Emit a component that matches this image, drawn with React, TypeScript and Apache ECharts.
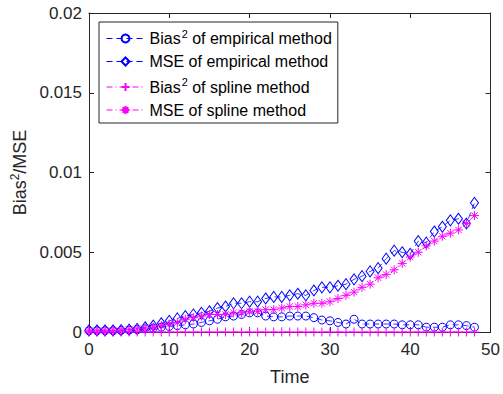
import React, { useEffect, useRef } from "react";
import * as echarts from "echarts";

const times = Array.from({ length: 49 }, (_, i) => i);

const biasEmpirical = [
  0.00008, 0.00008, 0.00008, 0.00008, 0.0001, 0.00012, 0.00015, 0.0002, 0.00025, 0.0003,
  0.00035, 0.0004, 0.00045, 0.0005, 0.0006, 0.0007, 0.0008, 0.00095, 0.001, 0.0011,
  0.0012, 0.0012, 0.001, 0.00095, 0.00095, 0.001, 0.001, 0.001, 0.0009, 0.00075,
  0.0007, 0.0006, 0.0005, 0.0008, 0.0005, 0.0005, 0.0005, 0.0005, 0.0005, 0.00045,
  0.00045, 0.00045, 0.0003, 0.0003, 0.0003, 0.00045, 0.00045, 0.0004, 0.0003,
];

const mseEmpirical = [
  0.0001, 0.0001, 0.0001, 0.0001, 0.00012, 0.00015, 0.0002, 0.0003, 0.0004, 0.00055,
  0.0007, 0.00085, 0.001, 0.0011, 0.0012, 0.0013, 0.0015, 0.0016, 0.0018, 0.0018,
  0.0019, 0.0019, 0.0021, 0.0022, 0.0022, 0.0023, 0.0024, 0.0023, 0.0026, 0.0028,
  0.0028, 0.0029, 0.003, 0.0033, 0.0035, 0.0038, 0.004, 0.0046, 0.0051, 0.005,
  0.0049, 0.0057, 0.0056, 0.0063, 0.0066, 0.007, 0.0071, 0.0068, 0.0081,
];

const biasSpline = [
  0, 0, 0, 0, 0, 0, 0, 0, 0, 0,
  0, 0, 0, 0, 0, 0, 0, 0, 0, 0,
  0, 0, 0, 0, 0, 0, 0, 0, 0, 0,
  0, 0, 0, 0, 0, 0, 0, 0, 0, 0,
  0, 0, 0, 0, 0, 0, 0, 0, 0,
];

const mseSpline = [
  0.00008, 0.00008, 0.00008, 0.0001, 0.00012, 0.00015, 0.0002, 0.00025, 0.0003, 0.0004,
  0.0005, 0.0006, 0.0008, 0.0009, 0.001, 0.0011, 0.0011, 0.0011, 0.0012, 0.0012,
  0.0013, 0.0013, 0.0014, 0.0014, 0.0015, 0.0016, 0.0016, 0.0017, 0.0018, 0.0018,
  0.0019, 0.0021, 0.0023, 0.0025, 0.0028, 0.003, 0.0034, 0.0036, 0.0039, 0.0043,
  0.0047, 0.005, 0.0054, 0.0057, 0.006, 0.0062, 0.0064, 0.0068, 0.0073,
];

const seriesNames = [
  "Bias2 of empirical method",
  "MSE of empirical method",
  "Bias2 of spline method",
  "MSE of spline method",
];

const xTicks = { min: 0, max: 50, interval: 10 };
const yTicks = { min: 0, max: 0.02, interval: 0.005 };

const BLUE = "#0000ff";
const MAGENTA = "#ff00ff";
const TEXT = "#262626";

const PLUS = "path://M0,-1L0,1M-1,0L1,0";
const ASTER =
  "path://M0,-1L0,1M-1,0L1,0M-0.7071,-0.7071L0.7071,0.7071M-0.7071,0.7071L0.7071,-0.7071";

function pairs(vals: number[]) {
  return vals.map((v, i) => [times[i], v]);
}

function fmtY(v: number) {
  if (v === 0) return "0";
  return String(+v.toFixed(4));
}

export default function App() {
  const ref = useRef<HTMLDivElement>(null);
  useEffect(() => {
    if (!ref.current) return;
    const chart = echarts.init(ref.current, undefined, { renderer: "svg" });
    const rich = {
      a: { fontSize: 16, color: "#000", fontFamily: "Liberation Sans" },
      sup: {
        fontSize: 11,
        color: "#000",
        fontFamily: "Liberation Sans",
        verticalAlign: "bottom",
        padding: [0, 0, 10, 1],
      },
    };
    const mkSeries = (
      name: string,
      data: number[],
      color: string,
      symbol: string,
      symbolSize: any,
      dash: number[]
    ) => ({
      name,
      type: "line",
      data: pairs(data),
      symbol,
      symbolSize,
      showSymbol: true,
      xAxisIndex: 0,
      yAxisIndex: 0,
      lineStyle: { color, width: 0.8, type: dash },
      itemStyle: { color: "rgba(0,0,0,0)", borderColor: color, borderWidth: 1 },
      emphasis: { disabled: true },
      z: 3,
    });
    chart.setOption({
      animation: false,
      backgroundColor: "#fff",
      textStyle: { fontFamily: "Liberation Sans" },
      grid: { left: 89, right: 11, top: 13, bottom: 62, containLabel: false },
      legend: {
        orient: "vertical",
        left: 99,
        top: 22,
        padding: [6, 6, 5, 7],
        itemGap: 7,
        itemWidth: 38,
        itemHeight: 10,
        backgroundColor: "#fff",
        borderColor: TEXT,
        borderWidth: 1,
        selectedMode: false,
        data: seriesNames,
        lineStyle: { width: 1 },
        textStyle: { fontSize: 16, color: "#000", rich },
        formatter: (n: string) =>
          n.startsWith("Bias2")
            ? "{a|Bias}{sup|2}{a|" + n.slice(5) + "}"
            : "{a|" + n + "}",
      },
      xAxis: [
        {
          type: "value",
          position: "bottom",
          ...xTicks,
          name: "Time",
          nameLocation: "middle",
          nameGap: 36,
          nameTextStyle: { fontSize: 18, color: TEXT },
          axisLine: { show: true, onZero: false, lineStyle: { color: TEXT, width: 1 } },
          axisTick: { show: true, inside: true, length: 5, lineStyle: { color: TEXT } },
          axisLabel: { fontSize: 17, color: TEXT, margin: 9 },
          splitLine: { show: false },
        },
        {
          type: "value",
          position: "top",
          ...xTicks,
          axisLine: { show: true, onZero: false, lineStyle: { color: TEXT, width: 1 } },
          axisTick: { show: true, inside: true, length: 5, lineStyle: { color: TEXT } },
          axisLabel: { show: false },
          splitLine: { show: false },
        },
      ],
      yAxis: [
        {
          type: "value",
          position: "left",
          ...yTicks,
          name: "{b|Bias}{s|2}{b|/MSE}",
          nameLocation: "middle",
          nameGap: 55,
          nameTextStyle: {
            color: TEXT,
            rich: {
              b: { fontSize: 18, color: TEXT, fontFamily: "Liberation Sans" },
              s: {
                fontSize: 12,
                color: TEXT,
                fontFamily: "Liberation Sans",
                verticalAlign: "bottom",
                padding: [0, 0, 9, 0],
              },
            },
          },
          axisLine: { show: true, onZero: false, lineStyle: { color: TEXT, width: 1 } },
          axisTick: { show: true, inside: true, length: 5, lineStyle: { color: TEXT } },
          axisLabel: { fontSize: 17, color: TEXT, margin: 7, formatter: fmtY },
          splitLine: { show: false },
        },
        {
          type: "value",
          position: "right",
          ...yTicks,
          axisLine: { show: true, onZero: false, lineStyle: { color: TEXT, width: 1 } },
          axisTick: { show: true, inside: true, length: 5, lineStyle: { color: TEXT } },
          axisLabel: { show: false },
          splitLine: { show: false },
        },
      ],
      series: [
        mkSeries(seriesNames[0], biasEmpirical, BLUE, "circle", 8, [6, 4]),
        mkSeries(seriesNames[1], mseEmpirical, BLUE, "diamond", [8, 11], [6, 4]),
        mkSeries(seriesNames[2], biasSpline, MAGENTA, PLUS, 9, [6, 3, 1, 3]),
        mkSeries(seriesNames[3], mseSpline, MAGENTA, ASTER, 9, [6, 3, 1, 3]),
      ],
    });
    return () => chart.dispose();
  }, []);
  return <div ref={ref} style={{ width: 503, height: 394, position: "absolute", left: 0, top: 0 }} />;
}
